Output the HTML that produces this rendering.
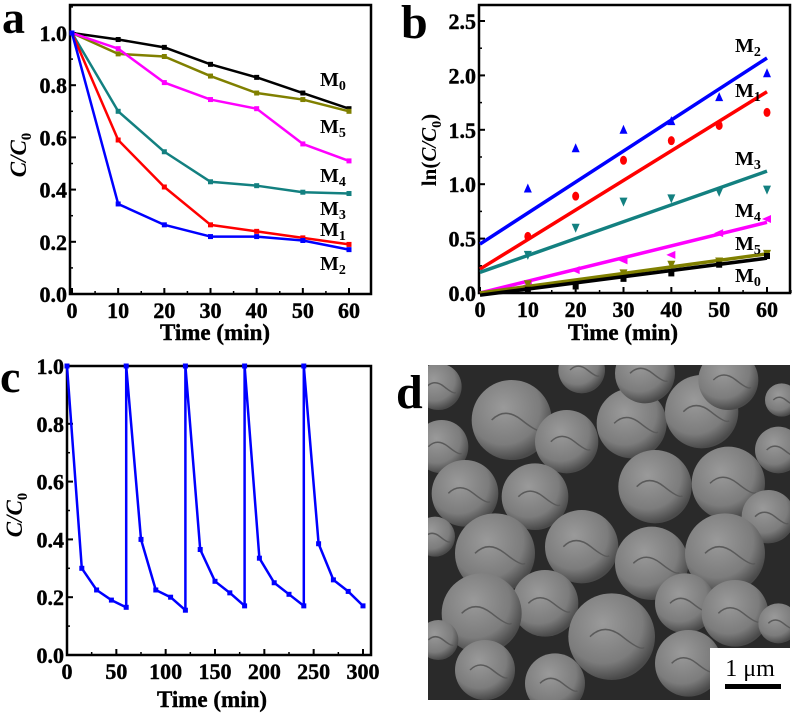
<!DOCTYPE html>
<html><head><meta charset="utf-8"><style>
html,body{margin:0;padding:0;background:#fff;}
svg{display:block;font-family:"Liberation Serif",serif;font-weight:bold;}
</style></head><body>
<svg id="s" width="795" height="714" viewBox="0 0 795 714" xmlns="http://www.w3.org/2000/svg">
<defs>
<radialGradient id="ball" cx="0.4" cy="0.35" r="0.65"><stop offset="0" stop-color="#9a9a9a"/><stop offset="0.7" stop-color="#7c7c7c"/><stop offset="1" stop-color="#4a4a4a"/></radialGradient>
<clipPath id="semclip"><rect x="428" y="365" width="362" height="335"/></clipPath>
</defs>
<g id="pa"></g>
<g id="pb"></g>
<g id="pc"></g>
<g id="pd"></g>
</svg>
<script>
// Panel a data
const aTimes=[0,10,20,30,40,50,60];
const aM0=[1,0.975,0.945,0.88,0.83,0.77,0.71];
const aM5=[1,0.92,0.91,0.835,0.77,0.745,0.70];
const aM4=[1,0.94,0.81,0.745,0.71,0.575,0.51];
const aM3=[1,0.70,0.545,0.43,0.415,0.39,0.385];
const aM1=[1,0.59,0.41,0.265,0.24,0.215,0.19];
const aM2=[1,0.345,0.265,0.22,0.22,0.205,0.17];
const aYTicks=["0.0","0.2","0.4","0.6","0.8","1.0"];
const aXTicks=["0","10","20","30","40","50","60"];
// Panel b data
const bTimes=[10,20,30,40,50,60];
const bM2=[0.96,1.33,1.50,1.58,1.80,2.02];
const bM1=[0.52,0.89,1.22,1.40,1.54,1.66];
const bM3=[0.35,0.60,0.84,0.87,0.93,0.95];
const bM4=[0.07,0.21,0.30,0.35,0.55,0.68];
const bM5=[0.08,0.09,0.18,0.26,0.29,0.36];
const bM0=[0.03,0.06,0.13,0.18,0.26,0.34];
const bFitStart=[0.45,0.22,0.19,0.0,0.0,-0.02];
const bFitEnd=[2.16,1.85,1.12,0.65,0.36,0.32];
const bYTicks=["0.0","0.5","1.0","1.5","2.0","2.5"];
const bXTicks=["0","10","20","30","40","50","60"];
// Panel c data
const cTimes=[0,15,30,45,60,60,75,90,105,120,120,135,150,165,180,180,195,210,225,240,240,255,270,285,300];
const cVals=[1,0.30,0.225,0.19,0.165,1,0.40,0.225,0.20,0.155,1,0.365,0.255,0.215,0.17,1,0.335,0.25,0.21,0.17,1,0.385,0.26,0.22,0.17];
const cYTicks=["0.0","0.2","0.4","0.6","0.8","1.0"];
const cXTicks=["0","50","100","150","200","250","300"];

const NS="http://www.w3.org/2000/svg";
function mk(p,t,a,txt){const e=document.createElementNS(NS,t);for(const k in a)e.setAttribute(k,a[k]);if(txt!==undefined)e.textContent=txt;p.appendChild(e);return e;}

function axes(g,box,xs,ys,xT,yT,xMin,xMax,yMin,yMax,xMinor,yMinor){
  const f=mk(g,'rect',{x:box.l,y:box.t,width:box.r-box.l,height:box.b-box.t,fill:'none',stroke:'#000','stroke-width':2.5});
  
  xT.forEach(t=>{const v=+t,x=xs(v);
    mk(g,'line',{x1:x,x2:x,y1:box.b,y2:box.b-6,stroke:'#000','stroke-width':2});
    const e=mk(g,'text',{x:x,y:box.b+24,'text-anchor':'middle','font-size':22,stroke:'#000','stroke-width':0.4},t);
    });
  for(let v=xMin;v<=xMax+1e-9;v+=xMinor){const x=xs(v);mk(g,'line',{x1:x,x2:x,y1:box.b,y2:box.b-3,stroke:'#000','stroke-width':1.5});}
  yT.forEach(t=>{const v=+t,y=ys(v);
    mk(g,'line',{x1:box.l,x2:box.l+6,y1:y,y2:y,stroke:'#000','stroke-width':2});
    const e=mk(g,'text',{x:box.l-3,y:y+8,'text-anchor':'end','font-size':22,stroke:'#000','stroke-width':0.4},t);
    });
  for(let v=yMin;v<=yMax+1e-9;v+=yMinor){const y=ys(v);mk(g,'line',{x1:box.l,x2:box.l+3,y1:y,y2:y,stroke:'#000','stroke-width':1.5});}
}
function poly(g,pts,color,w,name){const e=mk(g,'polyline',{points:pts.map(p=>p.join(',')).join(' '),fill:'none',stroke:color,'stroke-width':w,'stroke-linejoin':'round'});
  return e;}
function mlabel(g,x,y,sub,name){const e=mk(g,'text',{x:x,y:y,'font-size':20});
  
  e.appendChild(document.createTextNode('M'));mk(e,'tspan',{'font-size':14,dy:4},sub);}

// ----- Panel a
(function(){
  const g=document.getElementById('pa');
  const box={l:70,r:371,t:5,b:294};
  const xs=v=>72+v*(349-72)/60, ys=v=>294-v*261;
  axes(g,box,xs,ys,aXTicks,aYTicks,0,60,0,1.1,5,0.1);
  const series=[[aM0,'#000','M0'],[aM5,'#808000','M5'],[aM4,'#ff00ff','M4'],[aM3,'#138080','M3'],[aM1,'#ff0000','M1'],[aM2,'#0000ff','M2']];
  series.forEach(([d,c,n])=>{
    poly(g,aTimes.map((t,i)=>[xs(t),ys(d[i])]),c,2.5,'line-'+n.toLowerCase());
    aTimes.forEach((t,i)=>{const m=mk(g,'rect',{x:xs(t)-2.5,y:ys(d[i])-2.5,width:5,height:5,fill:c});});
  });
  const lab=[['0',320,86,'label-m0'],['5',320,133,'label-m5'],['4',320,182,'label-m4'],['3',320,215,'label-m3'],['1',320,236,'label-m1'],['2',320,270,'label-m2']];
  lab.forEach(l=>mlabel(g,l[1],l[2],l[0],l[3]));
  let e=mk(g,'text',{x:215,y:340,'text-anchor':'middle','font-size':23,stroke:'#000','stroke-width':0.4},'Time (min)');
  e=mk(g,'text',{transform:'translate(26,155) rotate(-90)','text-anchor':'middle','font-size':23,'font-style':'italic'});
  e.appendChild(document.createTextNode('C/C'));mk(e,'tspan',{'font-size':15,dy:5,'font-style':'normal'},'0');
  e=mk(g,'text',{x:2,y:33,'font-size':46},'a');
})();

// ----- Panel b
(function(){
  const g=document.getElementById('pb');
  const box={l:479,r:790,t:5,b:293};
  const xs=v=>480+v*(767-480)/60, ys=v=>293-v*108.8;
  axes(g,box,xs,ys,bXTicks,bYTicks,0,65,0,2.6,5,0.25);
  const series=[[bM2,'#0000ff','M2','up'],[bM1,'#ff0000','M1','circle'],[bM3,'#138080','M3','down'],[bM4,'#ff00ff','M4','left'],[bM5,'#808000','M5','down'],[bM0,'#000','M0','square']];
  series.forEach(([d,c,n,sh],k)=>{
    const l=mk(g,'line',{x1:xs(0),y1:ys(bFitStart[k]),x2:xs(60),y2:ys(bFitEnd[k]),stroke:c,'stroke-width':3.5});
    
    bTimes.forEach((t,i)=>{const x=xs(t),y=ys(d[i]);let m;
      if(sh==='up')m=mk(g,'polygon',{points:`${x},${y-5} ${x-4},${y+4} ${x+4},${y+4}`,fill:c});
      else if(sh==='down')m=mk(g,'polygon',{points:`${x},${y+5} ${x-4},${y-4} ${x+4},${y-4}`,fill:c});
      else if(sh==='left')m=mk(g,'polygon',{points:`${x-5},${y} ${x+4},${y-4} ${x+4},${y+4}`,fill:c});
      else if(sh==='circle')m=mk(g,'ellipse',{cx:x,cy:y,rx:3.5,ry:4.5,fill:c});
      else m=mk(g,'rect',{x:x-3,y:y-3,width:6,height:6,fill:c});
      });
  });
  const lab=[['2',735,52,'label-m2'],['1',735,97,'label-m1'],['3',735,165,'label-m3'],['4',735,217,'label-m4'],['5',735,250,'label-m5'],['0',735,282,'label-m0']];
  lab.forEach(l=>mlabel(g,l[1],l[2],l[0],l[3]));
  let e=mk(g,'text',{x:623,y:340,'text-anchor':'middle','font-size':23,stroke:'#000','stroke-width':0.4},'Time (min)');
  e=mk(g,'text',{transform:'translate(436,150) rotate(-90)','text-anchor':'middle','font-size':21});
  e.appendChild(document.createTextNode('ln('));mk(e,'tspan',{'font-style':'italic'},'C/C');mk(e,'tspan',{'font-size':14,dy:5},'0');mk(e,'tspan',{dy:-5},')');
  e=mk(g,'text',{x:401,y:38,'font-size':48},'b');
})();

// ----- Panel c
(function(){
  const g=document.getElementById('pc');
  const box={l:67,r:371,t:366,b:655};
  const xs=v=>67+v*(363-67)/300, ys=v=>655-v*289;
  axes(g,box,xs,ys,cXTicks,cYTicks,0,300,0,1.0,25,0.1);
  poly(g,cTimes.map((t,i)=>[xs(t),ys(cVals[i])]),'#0000ff',2.5,'cycle-line');
  cTimes.forEach((t,i)=>{const m=mk(g,'rect',{x:xs(t)-2.5,y:ys(cVals[i])-2.5,width:5,height:5,fill:'#0000ff'});});
  let e=mk(g,'text',{x:212,y:707,'text-anchor':'middle','font-size':23,stroke:'#000','stroke-width':0.4},'Time (min)');
  e=mk(g,'text',{transform:'translate(22,515) rotate(-90)','text-anchor':'middle','font-size':23,'font-style':'italic'});
  e.appendChild(document.createTextNode('C/C'));mk(e,'tspan',{'font-size':15,dy:5,'font-style':'normal'},'0');
  e=mk(g,'text',{x:0,y:392,'font-size':46},'c');
})();

// ----- Panel d (SEM image approximation)
(function(){
  const g=document.getElementById('pd');
  let e=mk(g,'rect',{x:428,y:365,width:362,height:335,fill:'#2a2a2a'});
  
  const cg=mk(g,'g',{'clip-path':'url(#semclip)'});
  const balls=[[350,210,120],[515,275,95],[710,220,105],[920,185,110],[1000,90,90],[130,110,70],[140,290,80],[210,430,100],[420,440,100],[780,410,110],[1000,400,110],[1150,300,70],[1120,500,80],[560,590,110],[300,610,120],[450,760,100],[770,640,110],[990,610,120],[260,790,120],[650,860,130],[870,760,90],[1020,790,100],[880,940,100],[270,960,90],[480,1000,90],[120,560,60],[130,870,60],[560,60,70],[750,70,90],[1150,820,60],[1160,150,50]];
  balls.forEach(b=>{const c=mk(cg,'circle',{cx:395+b[0]/3,cy:350+b[1]/3,r:b[2]/3,fill:'url(#ball)'});
    
    mk(cg,'path',{d:`M${395+b[0]/3-b[2]/6},${350+b[1]/3} q${b[2]/9},${-b[2]/9} ${b[2]/4},0 t${b[2]/6},${b[2]/12}`,fill:'none',stroke:'#5a5a5a','stroke-width':1.5});});
  e=mk(g,'rect',{x:710,y:648,width:80,height:52,fill:'#fff'});
  e=mk(g,'text',{x:750,y:676,'text-anchor':'middle','font-size':24,'font-weight':'normal'},'1 μm');
  e=mk(g,'rect',{x:725,y:684,width:56,height:5,fill:'#000'});
  e=mk(g,'text',{x:396,y:408,'font-size':48},'d');
})();
</script>
</body></html>
